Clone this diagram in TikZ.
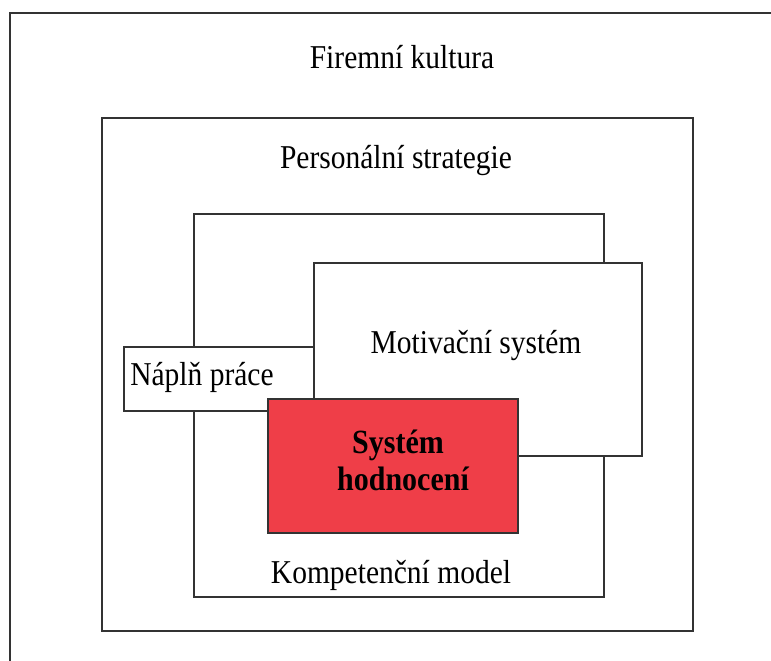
\documentclass[tikz,border=0pt]{standalone}
\usepackage{fontspec}
\setmainfont{Liberation Serif}
\definecolor{hodnred}{HTML}{EF3E48}
\newcommand{\tall}[1]{\scalebox{1}[1.13]{#1}}
\tikzset{
  box/.style={draw=black!80, line width=1.6pt, fill=white},
  lbl/.style={anchor=base, inner sep=0pt, font=\fontsize{29.5}{37}\selectfont}
}
\begin{document}
\begin{tikzpicture}[x=1pt, y=-1pt]
    \useasboundingbox (0,0) rectangle (771,661);
    \clip (0,0) rectangle (771,661);
    % nested boxes, outermost first
    \draw[box] (10,13) rectangle (790,690);
    \draw[box] (102,118) rectangle (693,631);
    \draw[box] (194,214) rectangle (604,597);
    \draw[box] (314,263) rectangle (642,456);
    \draw[box] (124,347) rectangle (314,411);
    \draw[box, fill=hodnred] (268,399) rectangle (518,533);
    % labels
    \node[lbl] (kultura) at (402,68) {\tall{Firemní kultura}};
    \node[lbl] (strategie) at (396,168) {\tall{Personální strategie}};
    \node[lbl] (motivace) at (476,353) {\tall{Motivační systém}};
    \node[lbl] (napln) at (202,385) {\tall{Náplň práce}};
    \node[lbl] (kompetence) at (391,583) {\tall{Kompetenční model}};
    \node[lbl, font=\fontsize{30}{37}\selectfont\bfseries]
      (system) at (398,453) {\tall{Systém}};
    \node[lbl, font=\fontsize{30}{37}\selectfont\bfseries]
      (hodnoceni) at (403,490) {\tall{hodnocení}};
\end{tikzpicture}
\end{document}
